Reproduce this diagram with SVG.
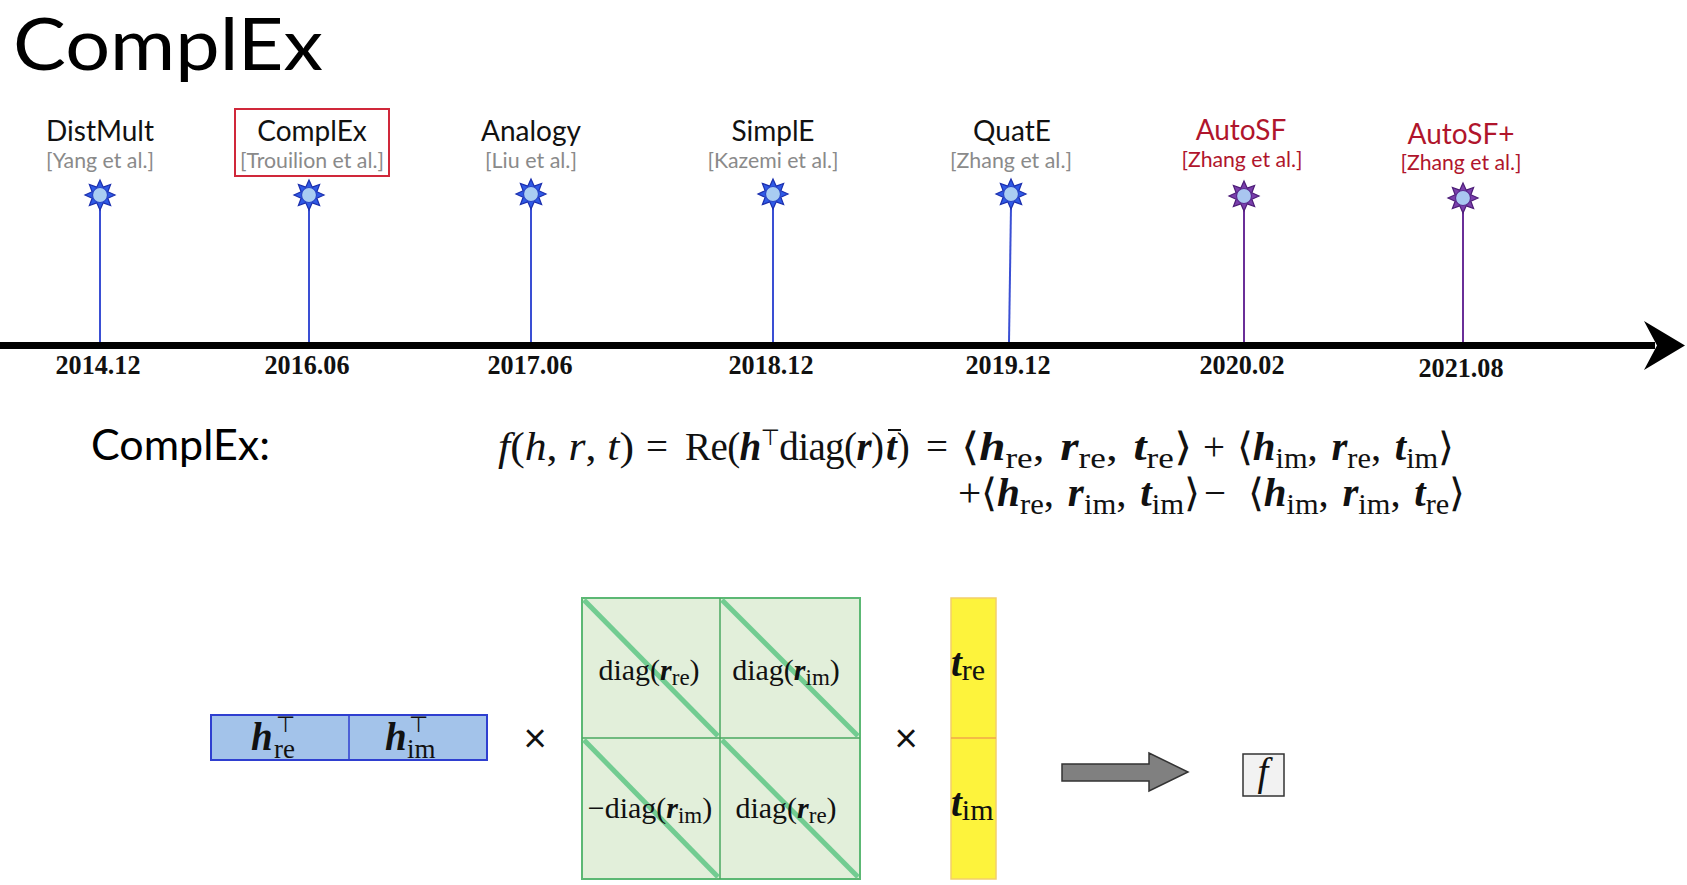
<svg xmlns="http://www.w3.org/2000/svg" xmlns:xlink="http://www.w3.org/1999/xlink" width="1687" height="885" viewBox="0 0 1687 885">
<style>
.sans{font-family:Lato,"Open Sans","Liberation Sans",sans-serif}
.name{font-family:Lato,"Open Sans","Liberation Sans",sans-serif;font-size:28px;fill:#111;text-anchor:middle}
.cite{font-family:Lato,"Open Sans","Liberation Sans",sans-serif;font-size:21px;fill:#8a8a8a;text-anchor:middle}
.red{fill:#b0152c}
.date{font-family:"Liberation Serif","Times New Roman",serif;font-weight:bold;font-size:27px;fill:#111;text-anchor:middle}
.math{font-family:"Liberation Serif","Times New Roman",serif;font-size:39px;fill:#111}
.bi{font-weight:bold;font-style:italic}
.it{font-style:italic}
.sub{font-size:29px}
.sym{font-family:"DejaVu Sans",sans-serif}
.cell{font-family:"Liberation Serif","Times New Roman",serif;font-size:30px;fill:#111;text-anchor:middle}
.stemB{stroke:#3a4fd4;stroke-width:2}
.stemP{stroke:#6a2f98;stroke-width:2}
.diag{stroke:#66c98a;stroke-width:5;opacity:0.9}
</style>
<defs>
<path id="starShape" d="M0,-15 L3.25,-7.85 L10.6,-10.6 L7.85,-3.25 L15,0 L7.85,3.25 L10.6,10.6 L3.25,7.85 L0,15 L-3.25,7.85 L-10.6,10.6 L-7.85,3.25 L-15,0 L-7.85,-3.25 L-10.6,-10.6 L-3.25,-7.85 Z"/>
<g id="starB"><use xlink:href="#starShape" fill="#2f5ae6" stroke="#1b2fae" stroke-width="1.2"/><circle r="7.5" fill="#a9cdf2" stroke="#2a47c8" stroke-width="1.2"/></g>
<g id="starP"><use xlink:href="#starShape" fill="#7a3fac" stroke="#4d1d78" stroke-width="1.2"/><circle r="7.5" fill="#a9c6f0" stroke="#5a2a90" stroke-width="1.2"/></g>
</defs>
<rect width="1687" height="885" fill="#ffffff"/>

<text x="13" y="70" class="sans" font-size="71" fill="#000" textLength="310" lengthAdjust="spacingAndGlyphs">ComplEx</text>

<g id="timeline">
<rect x="0" y="342" width="1655" height="7" fill="#000"/>
<polygon points="1685,345.5 1644,321 1657,345.5 1644,370" fill="#000"/>
</g>

<g id="connectors">
<line class="stemB" x1="100" y1="207" x2="100" y2="342"/>
<line class="stemB" x1="309" y1="207" x2="309" y2="342"/>
<line class="stemB" x1="531" y1="206" x2="531" y2="342"/>
<line class="stemB" x1="773" y1="206" x2="773" y2="342"/>
<line class="stemB" x1="1011" y1="206" x2="1009" y2="342"/>
<line class="stemP" x1="1244" y1="209" x2="1244" y2="342"/>
<line class="stemP" x1="1463" y1="211" x2="1463" y2="342"/>
</g>

<g id="ev-distmult">
<text x="100" y="141" class="name">DistMult</text>
<text x="100" y="168" class="cite" textLength="108" lengthAdjust="spacingAndGlyphs">[Yang et al.]</text>
<use xlink:href="#starB" x="100" y="195"/>
<text x="98" y="374" class="date" textLength="85" lengthAdjust="spacingAndGlyphs">2014.12</text>
</g>
<g id="ev-complex">
<rect x="235" y="109" width="154" height="67" fill="none" stroke="#d0283a" stroke-width="2"/>
<text x="312" y="141" class="name">ComplEx</text>
<text x="312" y="168" class="cite" textLength="144" lengthAdjust="spacingAndGlyphs">[Trouilion et al.]</text>
<use xlink:href="#starB" x="309" y="195"/>
<text x="307" y="374" class="date" textLength="85" lengthAdjust="spacingAndGlyphs">2016.06</text>
</g>
<g id="ev-analogy">
<text x="531" y="141" class="name">Analogy</text>
<text x="531" y="168" class="cite" textLength="92" lengthAdjust="spacingAndGlyphs">[Liu et al.]</text>
<use xlink:href="#starB" x="531" y="194"/>
<text x="530" y="374" class="date" textLength="85" lengthAdjust="spacingAndGlyphs">2017.06</text>
</g>
<g id="ev-simple">
<text x="773" y="141" class="name">SimplE</text>
<text x="773" y="168" class="cite" textLength="131" lengthAdjust="spacingAndGlyphs">[Kazemi et al.]</text>
<use xlink:href="#starB" x="773" y="194"/>
<text x="771" y="374" class="date" textLength="85" lengthAdjust="spacingAndGlyphs">2018.12</text>
</g>
<g id="ev-quate">
<text x="1012" y="141" class="name">QuatE</text>
<text x="1011" y="168" class="cite" textLength="122" lengthAdjust="spacingAndGlyphs">[Zhang et al.]</text>
<use xlink:href="#starB" x="1011" y="194"/>
<text x="1008" y="374" class="date" textLength="85" lengthAdjust="spacingAndGlyphs">2019.12</text>
</g>
<g id="ev-autosf">
<text x="1241" y="140" class="name red">AutoSF</text>
<text x="1242" y="167" class="cite red" textLength="121" lengthAdjust="spacingAndGlyphs">[Zhang et al.]</text>
<use xlink:href="#starP" x="1244" y="196"/>
<text x="1242" y="374" class="date" textLength="85" lengthAdjust="spacingAndGlyphs">2020.02</text>
</g>
<g id="ev-autosfplus">
<text x="1461" y="144" class="name red">AutoSF+</text>
<text x="1461" y="170" class="cite red" textLength="121" lengthAdjust="spacingAndGlyphs">[Zhang et al.]</text>
<use xlink:href="#starP" x="1463" y="198"/>
<text x="1461" y="377" class="date" textLength="85" lengthAdjust="spacingAndGlyphs">2021.08</text>
</g>

<g id="formula">
<text x="91" y="460" class="sans" font-size="43" fill="#000">ComplEx:</text>
<text x="498" y="460" class="math" textLength="136" lengthAdjust="spacingAndGlyphs"><tspan class="it">f</tspan>(<tspan class="it">h</tspan>, <tspan class="it">r</tspan>, <tspan class="it">t</tspan>)</text>
<text x="646" y="460" class="math">=</text>
<text x="685" y="460" class="math" textLength="199" lengthAdjust="spacing">Re(<tspan class="bi">h</tspan><tspan class="sym" font-size="22" dy="-15">⊤</tspan><tspan dy="15">diag(</tspan><tspan class="bi">r</tspan>)</text>
<text x="886" y="460" class="math"><tspan class="bi">t</tspan>)</text>
<line x1="888" y1="430" x2="901" y2="430" stroke="#111" stroke-width="2"/>
<text x="926" y="460" class="math">=</text>
<text x="961" y="460" class="math" textLength="231" lengthAdjust="spacingAndGlyphs">⟨<tspan class="bi">h</tspan><tspan class="sub" dy="8">re</tspan><tspan dy="-8">,&#8196;</tspan><tspan class="bi">r</tspan><tspan class="sub" dy="8">re</tspan><tspan dy="-8">,&#8196;</tspan><tspan class="bi">t</tspan><tspan class="sub" dy="8">re</tspan><tspan dy="-8">⟩</tspan></text>
<text x="1203" y="460" class="math">+</text>
<text x="1237" y="460" class="math" textLength="217" lengthAdjust="spacingAndGlyphs">⟨<tspan class="bi">h</tspan><tspan class="sub" dy="8">im</tspan><tspan dy="-8">,&#8196;</tspan><tspan class="bi">r</tspan><tspan class="sub" dy="8">re</tspan><tspan dy="-8">,&#8196;</tspan><tspan class="bi">t</tspan><tspan class="sub" dy="8">im</tspan><tspan dy="-8">⟩</tspan></text>
<text x="958" y="506" class="math" textLength="242" lengthAdjust="spacingAndGlyphs">+⟨<tspan class="bi">h</tspan><tspan class="sub" dy="8">re</tspan><tspan dy="-8">,&#8196;</tspan><tspan class="bi">r</tspan><tspan class="sub" dy="8">im</tspan><tspan dy="-8">,&#8196;</tspan><tspan class="bi">t</tspan><tspan class="sub" dy="8">im</tspan><tspan dy="-8">⟩</tspan></text>
<text x="1204" y="506" class="math" font-size="44">−</text>
<text x="1248" y="506" class="math" textLength="217" lengthAdjust="spacingAndGlyphs">⟨<tspan class="bi">h</tspan><tspan class="sub" dy="8">im</tspan><tspan dy="-8">,&#8196;</tspan><tspan class="bi">r</tspan><tspan class="sub" dy="8">im</tspan><tspan dy="-8">,&#8196;</tspan><tspan class="bi">t</tspan><tspan class="sub" dy="8">re</tspan><tspan dy="-8">⟩</tspan></text>
</g>

<g id="h-vector">
<rect x="211" y="715" width="276" height="45" fill="#a3c3ea" stroke="#2f3fd0" stroke-width="2"/>
<line x1="349" y1="715" x2="349" y2="760" stroke="#2f3fd0" stroke-width="1.5"/>
<text class="math" font-size="38"><tspan x="251" y="750" class="bi">h</tspan><tspan x="276" y="732" class="sym" font-size="22">⊤</tspan><tspan x="274" y="758" font-size="27">re</tspan></text>
<text class="math" font-size="38"><tspan x="385" y="750" class="bi">h</tspan><tspan x="409" y="732" class="sym" font-size="22">⊤</tspan><tspan x="407" y="758" font-size="27">im</tspan></text>
</g>

<text x="535" y="752" class="sans" font-size="40" text-anchor="middle" fill="#111">×</text>

<g id="r-matrix">
<rect x="582" y="598" width="278" height="281" fill="#e2efda" stroke="#5cb874" stroke-width="2"/>
<line x1="720" y1="598" x2="720" y2="879" stroke="#4aa860" stroke-width="1.5"/>
<line x1="582" y1="738" x2="860" y2="738" stroke="#4aa860" stroke-width="1.5"/>
<line class="diag" x1="584" y1="600" x2="718" y2="736"/>
<line class="diag" x1="722" y1="600" x2="858" y2="736"/>
<line class="diag" x1="584" y1="740" x2="718" y2="877"/>
<line class="diag" x1="722" y1="740" x2="858" y2="877"/>
<text x="649" y="680" class="cell">diag(<tspan class="bi">r</tspan><tspan font-size="23" dy="5">re</tspan><tspan dy="-5">)</tspan></text>
<text x="786" y="680" class="cell">diag(<tspan class="bi">r</tspan><tspan font-size="23" dy="5">im</tspan><tspan dy="-5">)</tspan></text>
<text x="650" y="818" class="cell">−diag(<tspan class="bi">r</tspan><tspan font-size="23" dy="5">im</tspan><tspan dy="-5">)</tspan></text>
<text x="786" y="818" class="cell">diag(<tspan class="bi">r</tspan><tspan font-size="23" dy="5">re</tspan><tspan dy="-5">)</tspan></text>
</g>

<text x="906" y="752" class="sans" font-size="40" text-anchor="middle" fill="#111">×</text>

<g id="t-vector">
<rect x="951" y="598" width="45" height="281" fill="#fdf33c" stroke="#f2cf6a" stroke-width="1.5"/>
<line x1="951" y1="738" x2="996" y2="738" stroke="#f0a848" stroke-width="1.5"/>
<text class="math" font-size="42"><tspan x="951" y="676" class="bi">t</tspan><tspan font-size="30" dy="4">re</tspan></text>
<text class="math" font-size="42"><tspan x="951" y="816" class="bi">t</tspan><tspan font-size="30" dy="4">im</tspan></text>
</g>

<g id="block-arrow">
<polygon points="1062,764 1149,764 1149,753 1188,772 1149,791 1149,781 1062,781" fill="#808080" stroke="#333" stroke-width="1.5"/>
</g>

<g id="f-box">
<rect x="1243" y="754" width="41" height="42" fill="#f2f2f2" stroke="#333" stroke-width="1.5"/>
<text x="1263" y="785" class="math it" font-size="32" text-anchor="middle">f</text>
</g>
</svg>
